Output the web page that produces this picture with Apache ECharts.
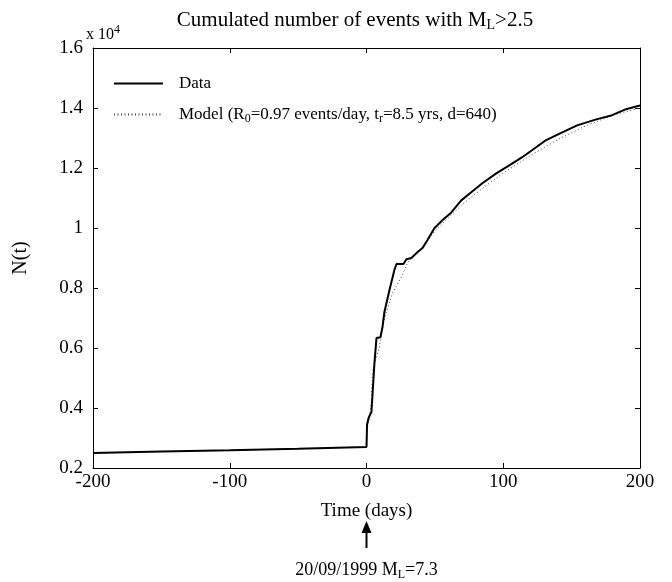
<!DOCTYPE html>
<html>
<head>
<meta charset="UTF-8">
<title>Cumulated number of events</title>
<script src="https://cdn.jsdelivr.net/npm/echarts@6/dist/echarts.min.js"></script>
<style>
  html, body { margin: 0; padding: 0; background: #fff; }
  #chart { width: 672px; height: 582px; }
</style>
</head>
<body>
<div id="chart"></div>
<script type="text/javascript">
// observed data (days relative to main shock, cumulated count)
var dataDays = [-200, -150, -100, -50, 0, 0.4, 1.5, 2.6, 3.6, 5.8, 7.3, 10.2, 11.7, 13.1, 16.8, 20.4, 21.9,
                27, 29.2, 32.8, 37.2, 40.9, 44.5, 49.6, 55.5, 62, 69.3, 76.6, 84.7, 94.9, 104.4, 113.9,
                121, 131, 142, 154, 168, 179.6, 189.8, 197.8, 200];
var dataCounts = [2500, 2550, 2590, 2640, 2700, 3450, 3660, 3780, 3860, 5490, 6330, 6360, 6700, 7200, 7930, 8600, 8800,
                  8800, 8960, 9000, 9190, 9330, 9590, 9990, 10260, 10520, 10920, 11190, 11490, 11820, 12090, 12360,
                  12590, 12920, 13160, 13420, 13620, 13760, 13960, 14060, 14080];

// model curve
var modelDays = [-200, -100, 0, 0.5, 1, 2.2, 3.6, 4.4, 6, 8, 9.5, 11, 14.6, 19, 25.5, 29.9, 33.6, 40, 50, 60, 70,
                 80, 90, 100, 120, 140, 160, 180, 200];
var modelCounts = [2500, 2590, 2700, 3200, 3450, 3690, 4250, 5150, 5500, 5800, 6020, 6590, 7200, 7830, 8360, 8830, 9030,
                   9300, 9900, 10350, 10780, 11150, 11500, 11830, 12420, 12950, 13400, 13760, 14000];

var serif = 'Liberation Serif';

var dom = document.getElementById('chart');
var myChart = echarts.init(dom);

function pairs(xs, ys) {
    var out = [];
    for (var i = 0; i < xs.length; i++) {
        out.push([xs[i], ys[i]]);
    }
    return out;
}

var option = {
    animation: false,
    backgroundColor: '#fff',
    title: {
        text: 'Cumulated number of events with M{sub|L}>2.5',
        left: 350,
        textAlign: 'center',
        top: 3,
        textStyle: {
            fontFamily: serif, fontSize: 21, fontWeight: 'normal', color: '#000',
            rich: { sub: { fontFamily: serif, fontSize: 14, color: '#000', padding: [10, 0, 0, 0] } }
        }
    },
    legend: {
        orient: 'vertical',
        left: 108,
        top: 70,
        itemWidth: 49,
        itemHeight: 14,
        itemGap: 14,
        itemStyle: { opacity: 0 },
        data: ['Data', 'Model'],
        formatter: function (name) {
            if (name === 'Model') {
                return 'Model (R{sub|0}=0.97 events/day, t{sub|r}=8.5 yrs, d=640)';
            }
            return name;
        },
        textStyle: {
            fontFamily: serif, fontSize: 17, color: '#000', padding: [0, 0, 0, 11],
            rich: { sub: { fontFamily: serif, fontSize: 12, color: '#000', padding: [9, 0, 0, 0] } }
        }
    },
    grid: {
        left: 93,
        right: 32,
        top: 48,
        bottom: 114
    },
    xAxis: [{
        type: 'value',
        min: -200,
        max: 200,
        interval: 100,
        name: 'Time (days)',
        nameLocation: 'middle',
        nameGap: 34,
        nameTextStyle: { fontFamily: serif, fontSize: 19, color: '#000' },
        axisLine: { onZero: false, lineStyle: { color: '#000', width: 1 } },
        axisTick: { inside: true, length: 5, lineStyle: { color: '#000' } },
        axisLabel: { fontFamily: serif, fontSize: 19, color: '#000', margin: 5 },
        splitLine: { show: false }
    }, {
        type: 'value',
        position: 'top',
        min: -200,
        max: 200,
        interval: 100,
        axisLine: { onZero: false, lineStyle: { color: '#000', width: 1 } },
        axisTick: { inside: true, length: 5, lineStyle: { color: '#000' } },
        axisLabel: { show: false },
        splitLine: { show: false }
    }],
    yAxis: [{
        type: 'value',
        min: 2000,
        max: 16000,
        interval: 2000,
        name: 'N(t)',
        nameLocation: 'middle',
        nameRotate: 90,
        nameGap: 62,
        nameTextStyle: { fontFamily: serif, fontSize: 20, color: '#000' },
        axisLine: { show: true, onZero: false, lineStyle: { color: '#000', width: 1 } },
        axisTick: { show: true, inside: true, length: 5, lineStyle: { color: '#000' } },
        axisLabel: {
            fontFamily: serif, fontSize: 19, color: '#000', margin: 10,
            formatter: function (v) { return String(v / 10000); }
        },
        splitLine: { show: false }
    }, {
        type: 'value',
        position: 'right',
        min: 2000,
        max: 16000,
        interval: 2000,
        axisLine: { show: true, onZero: false, lineStyle: { color: '#000', width: 1 } },
        axisTick: { show: true, inside: true, length: 5, lineStyle: { color: '#000' } },
        axisLabel: { show: false },
        splitLine: { show: false }
    }],
    series: [{
        name: 'Model',
        type: 'line',
        symbol: 'none',
        z: 2,
        data: pairs(modelDays, modelCounts),
        lineStyle: { color: '#444', width: 1, type: [1, 2.5] },
        itemStyle: { color: '#444' }
    }, {
        name: 'Data',
        type: 'line',
        symbol: 'none',
        z: 3,
        data: pairs(dataDays, dataCounts),
        lineStyle: { color: '#000', width: 2 },
        itemStyle: { color: '#000' }
    }]
};

myChart.setOption(option, true);

// exponent label, arrow and main shock annotation under day 0
var x0 = myChart.convertToPixel({ xAxisIndex: 0 }, 0);
var yTop = myChart.convertToPixel({ yAxisIndex: 0 }, 16000);
myChart.setOption({
    graphic: [{
        type: 'text',
        left: 86,
        top: yTop - 24,
        style: {
            text: 'x 10{sup|4}',
            fontFamily: serif, fontSize: 16, fill: '#000',
            rich: { sup: { fontFamily: serif, fontSize: 12, fill: '#000', padding: [0, 0, 9, 0] } }
        }
    }, {
        type: 'line',
        shape: { x1: x0, y1: 548, x2: x0, y2: 530 },
        style: { stroke: '#000', lineWidth: 2 }
    }, {
        type: 'polygon',
        shape: { points: [[x0, 521], [x0 - 5, 533], [x0 + 5, 533]] },
        style: { fill: '#000' }
    }, {
        type: 'text',
        x: x0,
        y: 570,
        style: {
            text: '20/09/1999 M{sub|L}=7.3',
            fontFamily: serif, fontSize: 18, fill: '#000',
            align: 'center', verticalAlign: 'middle',
            rich: { sub: { fontFamily: serif, fontSize: 12, fill: '#000', padding: [9, 0, 0, 0] } }
        }
    }]
});
</script>
</body>
</html>
